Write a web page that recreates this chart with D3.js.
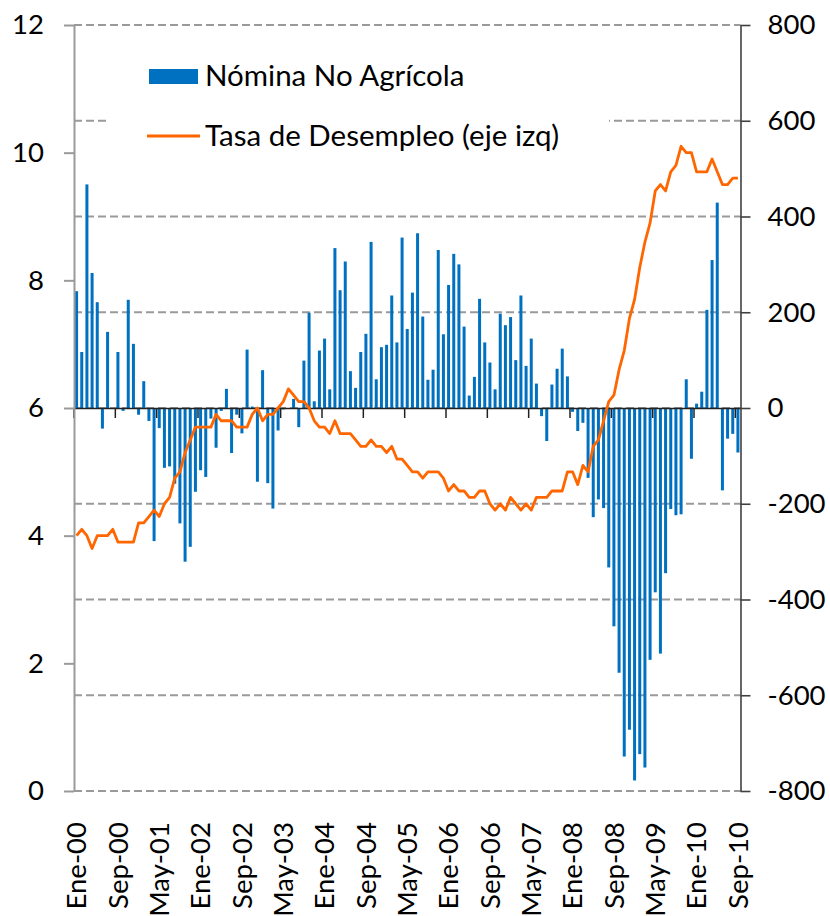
<!DOCTYPE html>
<html><head><meta charset="utf-8">
<script src="https://cdn.jsdelivr.net/npm/d3@7"></script>
<style>
html,body{margin:0;padding:0;background:#fff;}
svg{display:block;font-family:Lato, "Open Sans", sans-serif;}
</style></head>
<body>
<svg id="chart" width="830" height="916"></svg>
<script>
// ---- Data (monthly, Ene-2000 .. Sep-2010) ----
const monthNames = ["Ene","Feb","Mar","Abr","May","Jun","Jul","Ago","Sep","Oct","Nov","Dic"];
const years = ["00","01","02","03","04","05","06","07","08","09","10"];

// Nómina No Agrícola (monthly change, thousands) - right axis
const payroll = [
  244, 117, 467, 282, 221, -43, 159, -2, 117, -6, 226, 134,          // 2000
  -14, 56, -27, -278, -42, -125, -122, -158, -241, -321, -290, -175, // 2001
  -130, -144, -22, -83, -6, 40, -94, -14, -53, 122, 3, -154,         // 2002
  79, -157, -210, -47, -3, 0, 19, -40, 99, 199, 14, 120,             // 2003
  145, 39, 334, 246, 306, 77, 42, 117, 155, 347, 60, 127,            // 2004
  132, 235, 137, 356, 165, 241, 365, 191, 59, 80, 330, 154,          // 2005
  257, 322, 300, 170, 26, 65, 228, 137, 95, 39, 197, 173,            // 2006
  190, 100, 235, 88, 145, 51, -17, -69, 49, 82, 124, 66,             // 2007
  -8, -48, -31, -146, -228, -191, -209, -333, -456, -553, -728, -672,// 2008
  -778, -723, -751, -526, -385, -513, -345, -211, -224, -222, 60, -106, // 2009
  9, 34, 205, 309, 429, -172, -64, -54, -93                          // 2010
];

// Tasa de Desempleo (%) - left axis
const unemployment = [
  4.0, 4.1, 4.0, 3.8, 4.0, 4.0, 4.0, 4.1, 3.9, 3.9, 3.9, 3.9,
  4.2, 4.2, 4.3, 4.4, 4.3, 4.5, 4.6, 4.9, 5.0, 5.3, 5.5, 5.7,
  5.7, 5.7, 5.7, 5.9, 5.8, 5.8, 5.8, 5.7, 5.7, 5.7, 5.9, 6.0,
  5.8, 5.9, 5.9, 6.0, 6.1, 6.3, 6.2, 6.1, 6.1, 6.0, 5.8, 5.7,
  5.7, 5.6, 5.8, 5.6, 5.6, 5.6, 5.5, 5.4, 5.4, 5.5, 5.4, 5.4,
  5.3, 5.4, 5.2, 5.2, 5.1, 5.0, 5.0, 4.9, 5.0, 5.0, 5.0, 4.9,
  4.7, 4.8, 4.7, 4.7, 4.6, 4.6, 4.7, 4.7, 4.5, 4.4, 4.5, 4.4,
  4.6, 4.5, 4.4, 4.5, 4.4, 4.6, 4.6, 4.6, 4.7, 4.7, 4.7, 5.0,
  5.0, 4.8, 5.1, 5.0, 5.4, 5.5, 5.8, 6.1, 6.2, 6.6, 6.9, 7.4,
  7.7, 8.2, 8.6, 8.9, 9.4, 9.5, 9.4, 9.7, 9.8, 10.1, 10.0, 10.0,
  9.7, 9.7, 9.7, 9.9, 9.7, 9.5, 9.5, 9.6, 9.6
];

const categories = [];
years.forEach(y => monthNames.forEach(m => categories.push(m + "-" + y)));
categories.length = payroll.length;

const xTickLabels = ["Ene-00","Sep-00","May-01","Ene-02","Sep-02","May-03","Ene-04","Sep-04",
  "May-05","Ene-06","Sep-06","May-07","Ene-08","Sep-08","May-09","Ene-10","Sep-10"];
const leftTicks = [0, 2, 4, 6, 8, 10, 12];
const rightTicks = [-800, -600, -400, -200, 0, 200, 400, 600, 800];
const seriesNames = ["Nómina No Agrícola", "Tasa de Desempleo (eje izq)"];

// ---- Layout ----
const svg = d3.select("#chart");
const L = 74, R = 740.5, T = 25, B = 791;
const fontSize = 27.5, legendFont = 29.5;
const barColor = "#0070C0", lineColor = "#FF6600";

const x = d3.scaleBand().domain(categories).range([L, R]).paddingInner(0.42).paddingOuter(0.21);
const yL = d3.scaleLinear().domain([0, 12]).range([B, T]);
const yR = d3.scaleLinear().domain([-800, 800]).range([B, T]);
const plainFmt = d => String(d); // ASCII hyphen for negatives

// gridlines (right axis)
svg.append("g").selectAll("line").data(rightTicks).join("line")
  .attr("x1", L).attr("x2", R).attr("y1", d => yR(d)).attr("y2", d => yR(d))
  .attr("stroke", "#9a9a9a").attr("stroke-width", 1.8).attr("stroke-dasharray", "8,4");

// legend background (covers gridline)
svg.append("rect").attr("x", 106).attr("y", 40).attr("width", 503).attr("height", 125).attr("fill", "#fff");

// bars
svg.append("g").selectAll("rect").data(payroll).join("rect")
  .attr("x", (d, i) => x(categories[i]))
  .attr("width", x.bandwidth())
  .attr("y", d => Math.min(yR(d), yR(0)))
  .attr("height", d => Math.abs(yR(d) - yR(0)))
  .attr("fill", barColor);

// zero axis (category axis)
const stepW = x.step();
const xAxis = d3.axisBottom(x)
  .tickValues(categories.filter((c, i) => i % 8 === 0))
  .tickFormat("").tickSize(10).tickSizeOuter(0);
const gx = svg.append("g").attr("transform", `translate(0,${yR(0)})`).call(xAxis);
gx.select(".domain").attr("stroke", "#222").attr("stroke-width", 1.5);
gx.selectAll(".tick").attr("transform", d => `translate(${x(d) - (stepW - x.bandwidth()) / 2},0)`);
gx.selectAll(".tick line").attr("stroke", "#222").attr("stroke-width", 1.5);

// x labels (bottom, rotated)
svg.append("g").selectAll("text").data(xTickLabels).join("text")
  .attr("transform", (d, k) => `translate(${x(categories[k * 8]) + x.bandwidth() / 2},822) rotate(-90)`)
  .attr("text-anchor", "end").attr("dy", "0.36em")
  .attr("font-size", fontSize).attr("fill", "#000").text(d => d);

// left axis
const gl = svg.append("g").attr("transform", `translate(${L},0)`)
  .call(d3.axisLeft(yL).tickValues(leftTicks).tickFormat(plainFmt).tickSize(10).tickSizeOuter(0).tickPadding(20));
gl.select(".domain").attr("stroke", "#9a9a9a").attr("stroke-width", 2);
gl.selectAll(".tick line").attr("stroke", "#9a9a9a").attr("stroke-width", 2);
gl.selectAll(".tick text").attr("font-size", fontSize).attr("font-family", "Lato").attr("fill", "#000");

// right axis
const gr = svg.append("g").attr("transform", `translate(${R},0)`)
  .call(d3.axisRight(yR).tickValues(rightTicks).tickFormat(plainFmt).tickSize(10).tickSizeOuter(0).tickPadding(17));
gr.select(".domain").attr("stroke", "#404040").attr("stroke-width", 1.6);
gr.selectAll(".tick line").attr("stroke", "#404040").attr("stroke-width", 1.6);
gr.selectAll(".tick text").attr("font-size", fontSize).attr("font-family", "Lato").attr("fill", "#000");

// unemployment line
const line = d3.line()
  .x((d, i) => x(categories[i]) + x.bandwidth() / 2)
  .y(d => yL(d));
svg.append("path").datum(unemployment).attr("d", line)
  .attr("fill", "none").attr("stroke", lineColor).attr("stroke-width", 2.8)
  .attr("stroke-linejoin", "round");

// legend
const lg = svg.append("g");
lg.append("rect").attr("x", 149).attr("y", 69).attr("width", 49).attr("height", 15).attr("fill", barColor);
lg.append("text").attr("x", 205).attr("y", 86).attr("font-size", legendFont).attr("fill", "#000").text(seriesNames[0]);
lg.append("line").attr("x1", 147).attr("x2", 200).attr("y1", 136).attr("y2", 136)
  .attr("stroke", lineColor).attr("stroke-width", 2.8);
lg.append("text").attr("x", 205).attr("y", 146).attr("font-size", legendFont).attr("fill", "#000").text(seriesNames[1]);
</script>
</body></html>
